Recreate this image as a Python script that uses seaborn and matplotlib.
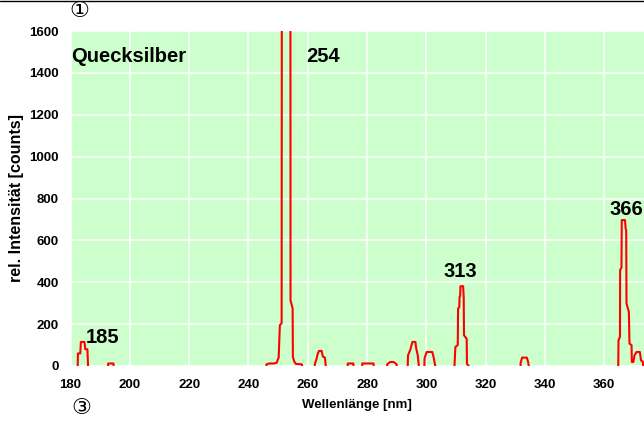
import matplotlib
matplotlib.use("Agg")
import matplotlib.pyplot as plt
from matplotlib.lines import Line2D
import pandas as pd
import seaborn as sns

# Mercury emission spectrum (wavelength in nm, intensity in counts).
# Values below zero are the detector floor, hidden beneath the axis.
wavelength = [
    180.0,
    182.4, 182.5, 183.3, 183.5, 184.7, 185.0, 185.7, 186.0,
    192.6, 192.7, 194.5, 194.6,
    246.0, 246.1, 247.0, 248.5, 249.5, 250.2, 250.6, 251.2, 251.4,
    254.1, 254.2, 254.9, 255.0, 255.5, 256.0, 258.0, 258.6,
    262.3, 262.4, 262.9, 263.4, 263.8, 264.7, 265.1, 265.8, 266.3,
    273.4, 273.5, 275.4, 275.5,
    278.3, 278.4, 282.2, 282.3,
    286.7, 286.8, 287.8, 289.0, 290.0, 290.2,
    293.7, 293.8, 294.6, 295.3, 296.3, 296.6, 297.1, 297.7,
    299.3, 299.4, 300.1, 302.0, 302.5, 303.4,
    309.4, 309.5, 309.8, 310.6, 310.7, 311.1, 311.2, 311.4, 311.5,
    312.4, 312.6, 312.7, 313.6, 313.7, 314.3, 314.4,
    331.7, 331.8, 332.3, 333.9, 334.3, 334.9,
    364.7, 364.8, 365.3, 365.35, 365.8, 365.9, 367.0, 367.2, 367.4,
    367.5, 368.3, 368.5, 369.2, 369.3, 369.8, 370.2, 370.9, 372.0,
    372.4, 373.0, 373.3, 374.0,
]
counts = [
    -30,
    -30, 60, 60, 115, 115, 80, 80, -30,
    -30, 12, 12, -30,
    -30, 8, 12, 12, 15, 40, 195, 205, 5000,
    5000, 313, 276, 43, 20, 10, 8, -30,
    -30, 10, 30, 60, 72, 72, 45, 40, -30,
    -30, 12, 12, -30,
    -30, 12, 12, -30,
    -30, 8, 19, 19, 8, -30,
    -30, 50, 78, 115, 115, 83, 51, -30,
    -30, 37, 67, 67, 39, -30,
    -30, 5, 91, 100, 275, 280, 330, 335, 381,
    381, 330, 147, 130, 10, 0, -30,
    -30, 15, 40, 40, 20, -30,
    -30, 123, 139, 458, 470, 697, 697, 657, 650,
    299, 258, 107, 100, 19, 19, 51, 67, 67,
    27, 20, -30, -30,
]

# Peak annotations: text, x anchor (nm), baseline (counts)
peak_labels = ["185", "254", "313", "366"]
peak_x = [185.0, 259.6, 305.7, 361.6]
peak_y = [110, 1450, 426, 721]

x_ticks = [180, 200, 220, 240, 260, 280, 300, 320, 340, 360]
y_ticks = [0, 200, 400, 600, 800, 1000, 1200, 1400, 1600]

sns.set_style("whitegrid", {
    "axes.facecolor": "#CCFFCC",
    "grid.color": "white",
    "axes.edgecolor": "white",
    "text.color": "black",
    "axes.labelcolor": "black",
    "xtick.color": "black",
    "ytick.color": "black",
})
plt.rcParams["font.family"] = ["Liberation Sans", "DejaVu Sans"]

spectrum = pd.DataFrame({"wavelength": wavelength, "counts": counts})

fig = plt.figure(figsize=(6.44, 4.21), dpi=100)
ax = fig.add_axes([70.5 / 644, 1 - 366 / 421, (644 - 70.5) / 644, (366 - 31) / 421])

sns.lineplot(data=spectrum, x="wavelength", y="counts", sort=False,
             estimator=None, color="#FF0000", linewidth=1.5, ax=ax)

ax.set_xlim(180, 373.4)
ax.set_ylim(0, 1600)
ax.set_xticks(x_ticks)
ax.set_yticks(y_ticks)
ax.grid(True, color="white", linewidth=1.1)
for side in ax.spines.values():
    side.set_visible(False)
ax.tick_params(axis="both", length=0, labelsize=9.5, colors="black")
ax.tick_params(axis="y", pad=8.4)
ax.tick_params(axis="x", pad=9.4)
for lab in ax.get_xticklabels() + ax.get_yticklabels():
    lab.set_fontweight("bold")

ax.set_xlabel("Wellenlänge [nm]", fontsize=9.5, fontweight="bold",
              labelpad=6, color="black")
ax.set_ylabel("rel. Intensität [counts]", fontsize=11.5, fontweight="bold",
              labelpad=4, color="black")

ax.text(180.3, 1450, "Quecksilber", fontsize=14.5, fontweight="bold",
        ha="left", va="baseline", color="black")
for txt, px, py in zip(peak_labels, peak_x, peak_y):
    ax.text(px, py, txt, fontsize=14.5, fontweight="bold", ha="left",
            va="baseline", color="black")

# Circled markers above and below the chart
fig.text(79 / 644, 1 - 11 / 421, "①", fontsize=16, ha="center", va="center",
         color="black", family=["DejaVu Sans", "Noto Sans CJK JP"])
fig.text(81 / 644, 1 - 408 / 421, "③", fontsize=16, ha="center", va="center",
         color="black", family=["DejaVu Sans", "Noto Sans CJK JP"])

# Thin rule along the top edge
fig.add_artist(Line2D([0, 1], [1 - 0.6 / 421, 1 - 0.6 / 421],
                      transform=fig.transFigure, color="black", linewidth=1.0))

fig.savefig("out.png", dpi=100)
